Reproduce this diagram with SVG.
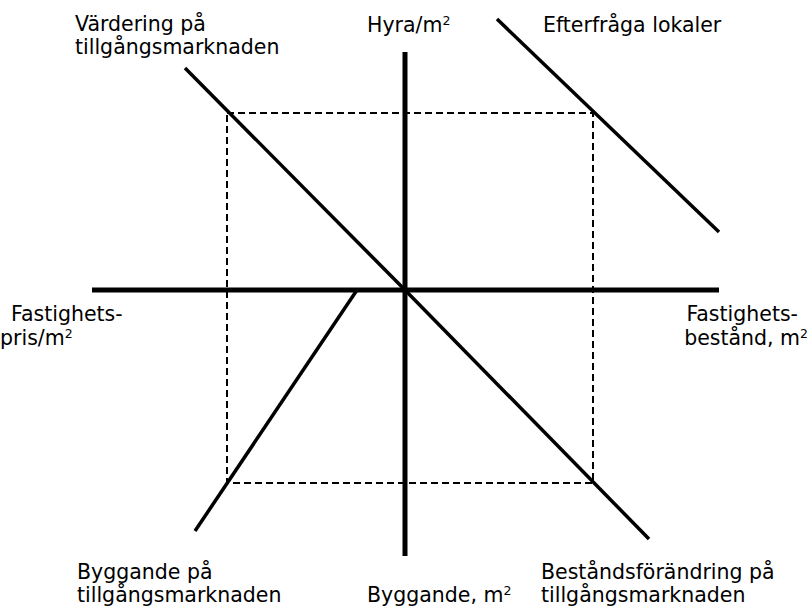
<svg xmlns="http://www.w3.org/2000/svg" width="809" height="608" viewBox="0 0 809 608">
<style>
text{font-family:"DejaVu Sans","Liberation Sans",Arial,sans-serif;font-size:20.5px;fill:#000}
.axis{stroke:#000;stroke-width:5;fill:none}
.curve{stroke:#000;stroke-width:3.5;fill:none}
.dash{stroke:#000;stroke-width:2;fill:none;stroke-dasharray:7 4}
.sup{font-size:12.5px}
</style>
<rect width="809" height="608" fill="#fff"/>
<g id="connectors">
<rect class="dash" x="227" y="113" width="366" height="370"/>
<line class="axis" x1="405" y1="52" x2="405" y2="556"/>
<line class="axis" x1="92" y1="290" x2="719" y2="290"/>
<line class="curve" x1="185" y1="68" x2="405" y2="290"/>
<line class="curve" x1="497" y1="19" x2="719" y2="232"/>
<line class="curve" x1="357" y1="290" x2="195" y2="531"/>
<line class="curve" x1="405" y1="290" x2="649" y2="539"/>
</g>
<g id="label-vardering"><text x="75" y="31">Värdering på</text><text x="75" y="54">tillgångsmarknaden</text></g>
<g id="label-hyra"><text x="367" y="32">Hyra/m<tspan class="sup" dy="-7">2</tspan></text></g>
<g id="label-efterfraga"><text x="543" y="32">Efterfråga lokaler</text></g>
<g id="label-fastighetspris"><text x="11" y="321">Fastighets-</text><text x="0" y="345">pris/m<tspan class="sup" dy="-7">2</tspan></text></g>
<g id="label-fastighetsbestand"><text x="798" y="321" text-anchor="end">Fastighets-</text><text x="808" y="345" text-anchor="end">bestånd, m<tspan class="sup" dy="-7">2</tspan></text></g>
<g id="label-byggande-tillg"><text x="77" y="579">Byggande på</text><text x="77" y="602">tillgångsmarknaden</text></g>
<g id="label-byggande"><text x="367" y="602">Byggande, m<tspan class="sup" dy="-7">2</tspan></text></g>
<g id="label-bestand"><text x="541" y="579">Beståndsförändring på</text><text x="541" y="602">tillgångsmarknaden</text></g>
</svg>
